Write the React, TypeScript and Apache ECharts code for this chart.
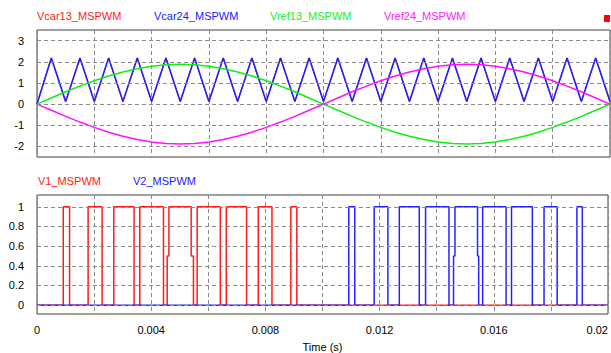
import React, { useEffect, useRef } from "react";
import * as echarts from "echarts";

const FONT = '"Liberation Sans", Arial, sans-serif';

// Carrier triangle vertices (s) and values
const carrierTime = [
  0, 0.0005, 0.001, 0.0015, 0.002, 0.0025, 0.003, 0.0035, 0.004, 0.0045,
  0.005, 0.0055, 0.006, 0.0065, 0.007, 0.0075, 0.008, 0.0085, 0.009, 0.0095,
  0.01, 0.0105, 0.011, 0.0115, 0.012, 0.0125, 0.013, 0.0135, 0.014, 0.0145,
  0.015, 0.0155, 0.016, 0.0165, 0.017, 0.0175, 0.018, 0.0185, 0.019, 0.0195, 0.02,
];
const vcar13 = [
  0, 2.18, 0.12, 2.18, 0.12, 2.18, 0.12, 2.18, 0.12, 2.18,
  0.12, 2.18, 0.12, 2.18, 0.12, 2.18, 0.12, 2.18, 0.12, 2.18,
  0.12, 2.18, 0.12, 2.18, 0.12, 2.18, 0.12, 2.18, 0.12, 2.18,
  0.12, 2.18, 0.12, 2.18, 0.12, 2.18, 0.12, 2.18, 0.12, 2.18, 0.12,
];
const vcar24 = [
  0, 2.18, 0.12, 2.18, 0.12, 2.18, 0.12, 2.18, 0.12, 2.18,
  0.12, 2.18, 0.12, 2.18, 0.12, 2.18, 0.12, 2.18, 0.12, 2.18,
  0.12, 2.18, 0.12, 2.18, 0.12, 2.18, 0.12, 2.18, 0.12, 2.18,
  0.12, 2.18, 0.12, 2.18, 0.12, 2.18, 0.12, 2.18, 0.12, 2.18, 0.12,
];
const vref13 = [
  0, 0.29, 0.58, 0.85, 1.1, 1.33, 1.52, 1.67, 1.79, 1.86,
  1.88, 1.86, 1.79, 1.67, 1.52, 1.33, 1.1, 0.85, 0.58, 0.29,
  0, -0.29, -0.58, -0.85, -1.1, -1.33, -1.52, -1.67, -1.79, -1.86,
  -1.88, -1.86, -1.79, -1.67, -1.52, -1.33, -1.1, -0.85, -0.58, -0.29, 0,
];
const vref24 = [
  0, -0.29, -0.58, -0.85, -1.1, -1.33, -1.52, -1.67, -1.79, -1.86,
  -1.88, -1.86, -1.79, -1.67, -1.52, -1.33, -1.1, -0.85, -0.58, -0.29,
  0, 0.29, 0.58, 0.85, 1.1, 1.33, 1.52, 1.67, 1.79, 1.86,
  1.88, 1.86, 1.79, 1.67, 1.52, 1.33, 1.1, 0.85, 0.58, 0.29, 0,
];

// PWM level changes: at time t the level becomes value
const v1Time = [
  0, 0.00092, 0.00114, 0.00179, 0.00228, 0.00269, 0.0034, 0.0036, 0.00443,
  0.00456, 0.00462, 0.0054, 0.00548, 0.00561, 0.00642, 0.00663, 0.00734,
  0.00775, 0.00823, 0.00889, 0.0091, 0.02,
];
const v1Level = [0, 1, 0, 1, 0, 1, 0, 1, 0, 0.5, 1, 0.5, 0, 1, 0, 1, 0, 1, 0, 1, 0, 0];
const v2Time = [
  0, 0.01092, 0.01113, 0.01181, 0.01229, 0.01269, 0.01339, 0.01361, 0.01443,
  0.01459, 0.01464, 0.01543, 0.01547, 0.01561, 0.01643, 0.01662, 0.01735,
  0.01776, 0.01822, 0.01891, 0.0191, 0.02,
];
const v2Level = [0, 1, 0, 1, 0, 1, 0, 1, 0, 0.5, 1, 0.5, 0, 1, 0, 1, 0, 1, 0, 1, 0, 0];

const topGridValues = [-2, -1, 0, 1, 2, 3];
const bottomGridValues = [0, 0.2, 0.4, 0.6, 0.8, 1];

const topLegend = [
  { name: "Vcar13_MSPWM", color: "#ff2020" },
  { name: "Vcar24_MSPWM", color: "#2020ff" },
  { name: "Vref13_MSPWM", color: "#20ee20" },
  { name: "Vref24_MSPWM", color: "#ff20ff" },
];
const bottomLegend = [
  { name: "V1_MSPWM", color: "#ff2020" },
  { name: "V2_MSPWM", color: "#2020ff" },
];

const zip = (t: number[], v: number[]) => t.map((x, i) => [x, v[i]]);

const gridLineStyle = { color: "#8a8a8a", type: [4, 3] as any, width: 1 };

export default function App() {
  const ref = useRef<HTMLDivElement>(null);
  useEffect(() => {
    if (!ref.current) return;
    const chart = echarts.init(ref.current, undefined, { renderer: "svg" });
    const xCommon = {
      type: "value" as const,
      min: 0,
      max: 0.02,
      interval: 0.002,
      axisLine: { show: false },
      axisTick: { show: false },
      splitLine: { show: true, lineStyle: gridLineStyle },
    };
    const option: any = {
      animation: false,
      backgroundColor: "#ffffff",
      grid: [
        { left: 37, top: 30, width: 573, height: 127, show: true, borderColor: "#404040", borderWidth: 1 },
        { left: 37, top: 195, width: 573, height: 119, show: true, borderColor: "#404040", borderWidth: 1 },
      ],
      xAxis: [
        { ...xCommon, gridIndex: 0, axisLabel: { show: false } },
        {
          ...xCommon,
          gridIndex: 1,
          name: "Time (s)",
          nameLocation: "middle",
          nameGap: 27,
          nameTextStyle: { fontSize: 11, color: "#000", fontFamily: FONT },
          axisLabel: {
            show: true,
            margin: 10,
            fontSize: 11,
            color: "#000",
            fontFamily: FONT,
            alignMaxLabel: "right",
            formatter: (v: number) => {
              const k = Math.round(v / 0.002);
              if (k % 2 !== 0) return "";
              if (k === 0) return "0";
              return String(parseFloat(v.toFixed(3)));
            },
          },
        },
      ],
      yAxis: [
        {
          gridIndex: 0,
          type: "value",
          min: -2.5,
          max: 3.5,
          interval: 0.5,
          axisLine: { show: false },
          axisTick: { show: false },
          splitLine: { show: false },
          axisLabel: {
            margin: 13,
            fontSize: 11,
            color: "#000",
            fontFamily: FONT,
            formatter: (v: number) => {
              const r = Math.round(v * 10);
              if (r % 10 !== 0 || r < -20 || r > 30) return "";
              return String(r / 10);
            },
          },
        },
        {
          gridIndex: 1,
          type: "value",
          min: -0.09,
          max: 1.12,
          interval: 0.01,
          axisLine: { show: false },
          axisTick: { show: false },
          splitLine: { show: false },
          axisLabel: {
            margin: 13,
            fontSize: 11,
            color: "#000",
            fontFamily: FONT,
            formatter: (v: number) => {
              const r = Math.round(v * 100);
              if (r % 20 !== 0 || r < 0 || r > 100) return "";
              return String(r / 100);
            },
          },
        },
      ],
      graphic: [
        ...topLegend.map((l, i) => ({
          type: "text",
          x: [37, 154, 270, 384][i],
          y: 16,
          style: { text: l.name, fill: l.color, fontSize: 11, fontFamily: FONT, verticalAlign: "middle" },
        })),
        ...bottomLegend.map((l, i) => ({
          type: "text",
          x: [38, 133][i],
          y: 181,
          style: { text: l.name, fill: l.color, fontSize: 11, fontFamily: FONT, verticalAlign: "middle" },
        })),
        { type: "rect", shape: { x: 604, y: 15, width: 6, height: 7 }, style: { fill: "#ff0000" } },
      ],
      series: [
        {
          type: "line",
          xAxisIndex: 0,
          yAxisIndex: 0,
          data: [],
          silent: true,
          markLine: {
            silent: true,
            symbol: ["none", "none"],
            label: { show: false },
            lineStyle: gridLineStyle,
            data: topGridValues.map((v) => ({ yAxis: v })),
          },
        },
        {
          type: "line",
          xAxisIndex: 1,
          yAxisIndex: 1,
          data: [],
          silent: true,
          markLine: {
            silent: true,
            symbol: ["none", "none"],
            label: { show: false },
            lineStyle: gridLineStyle,
            data: bottomGridValues.map((v) => ({ yAxis: v })),
          },
        },
        {
          name: "Vcar13_MSPWM",
          type: "line",
          xAxisIndex: 0,
          yAxisIndex: 0,
          showSymbol: false,
          data: zip(carrierTime, vcar13),
          lineStyle: { color: "#ff0000", width: 0.8 },
        },
        {
          name: "Vcar24_MSPWM",
          type: "line",
          xAxisIndex: 0,
          yAxisIndex: 0,
          showSymbol: false,
          data: zip(carrierTime, vcar24),
          lineStyle: { color: "#1f1fff", width: 1.6 },
        },
        {
          name: "Vref13_MSPWM",
          type: "line",
          xAxisIndex: 0,
          yAxisIndex: 0,
          showSymbol: false,
          data: zip(carrierTime, vref13),
          lineStyle: { color: "#10ee10", width: 1.5 },
        },
        {
          name: "Vref24_MSPWM",
          type: "line",
          xAxisIndex: 0,
          yAxisIndex: 0,
          showSymbol: false,
          data: zip(carrierTime, vref24),
          lineStyle: { color: "#ff10ff", width: 1.5 },
        },
        {
          name: "V1_MSPWM",
          type: "line",
          xAxisIndex: 1,
          yAxisIndex: 1,
          step: "end",
          showSymbol: false,
          data: zip(v1Time, v1Level),
          lineStyle: { color: "#ff1a1a", width: 1.5 },
        },
        {
          name: "V2_MSPWM",
          type: "line",
          xAxisIndex: 1,
          yAxisIndex: 1,
          step: "end",
          showSymbol: false,
          data: zip(v2Time, v2Level),
          lineStyle: { color: "#2424ff", width: 1.5 },
        },
      ],
    };
    chart.setOption(option);
    return () => chart.dispose();
  }, []);
  return <div ref={ref} style={{ position: "absolute", left: 0, top: 0, width: 611, height: 353 }} />;
}
